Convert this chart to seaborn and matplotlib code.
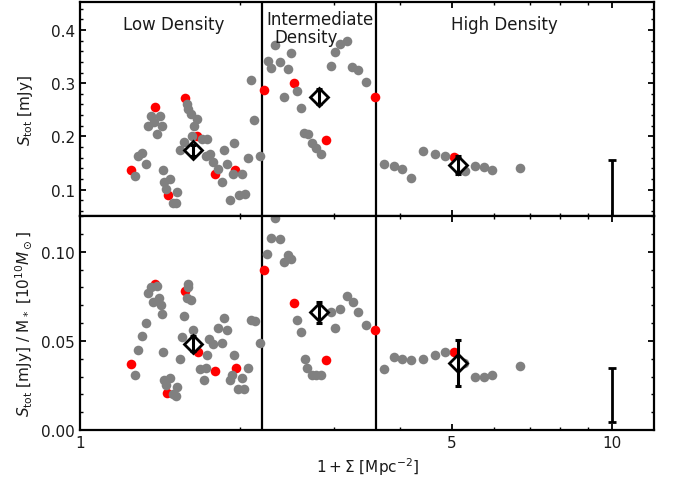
import numpy as np
import pandas as pd
import matplotlib
matplotlib.use("Agg")
import matplotlib.pyplot as plt
import seaborn as sns
from matplotlib.ticker import FixedLocator, FixedFormatter, MultipleLocator, FormatStrFormatter

# ---------------- data ----------------
# top panel: S_tot [mJy]
top_gray_x = [1.357, 1.413, 1.343, 1.377, 1.423, 1.396, 1.586, 1.597, 1.614, 1.656, 1.639, 1.621,
              1.692, 1.734, 1.567, 1.540, 1.724, 1.754, 1.774, 1.863, 1.945, 1.885, 1.817, 1.845,
              1.939, 2.016, 2.069, 2.176, 2.127, 2.093, 1.305, 1.286, 1.328, 1.268, 1.433, 1.475,
              1.438, 1.450, 1.523, 1.493, 1.514, 1.911, 1.990, 2.040,
              2.329, 2.489, 2.256, 2.289, 2.373, 2.460, 2.414, 2.561, 2.606, 2.636, 2.682, 2.729,
              2.781, 2.833, 2.958, 3.009, 3.087, 3.179, 3.248, 3.328, 3.440,
              3.724, 3.884, 4.020, 4.193, 4.407, 4.650, 4.861, 5.293, 5.516, 5.734, 5.936, 6.712]
top_gray_y = [0.238, 0.238, 0.220, 0.227, 0.220, 0.205, 0.261, 0.252, 0.242, 0.233, 0.219, 0.200,
              0.196, 0.195, 0.190, 0.175, 0.164, 0.166, 0.151, 0.174, 0.188, 0.149, 0.139, 0.115,
              0.129, 0.129, 0.159, 0.164, 0.231, 0.306, 0.169, 0.163, 0.149, 0.125, 0.136, 0.120,
              0.114, 0.101, 0.096, 0.075, 0.074, 0.081, 0.089, 0.092,
              0.372, 0.357, 0.342, 0.328, 0.339, 0.327, 0.274, 0.286, 0.253, 0.206, 0.204, 0.188,
              0.178, 0.167, 0.333, 0.358, 0.374, 0.380, 0.330, 0.325, 0.302,
              0.148, 0.145, 0.139, 0.121, 0.172, 0.167, 0.163, 0.134, 0.144, 0.142, 0.137, 0.141]
top_red_x = [1.383, 1.574, 1.246, 1.463, 1.792, 1.956, 1.660, 2.214, 2.524, 2.903, 3.588, 5.052]
top_red_y = [0.255, 0.272, 0.137, 0.090, 0.129, 0.136, 0.200, 0.287, 0.300, 0.193, 0.274, 0.161]

# bottom panel: S_tot / M*
bot_gray_x = [1.396, 1.359, 1.343, 1.369, 1.406, 1.419, 1.423, 1.593, 1.597, 1.586, 1.616, 1.567,
              1.328, 1.305, 1.286, 1.268, 1.429, 1.540, 1.552, 1.628, 1.729, 1.748, 1.774, 1.817,
              1.845, 1.863, 1.885, 1.945, 1.680, 1.722, 1.709, 1.926, 1.911, 2.016, 1.985, 2.037,
              2.069, 2.093, 2.130, 2.176, 1.439, 1.475, 1.450, 1.523, 1.496, 1.512,
              2.322, 2.289, 2.373, 2.250, 2.460, 2.489, 2.414, 2.561, 2.606, 2.644, 2.675, 2.729,
              2.781, 2.833, 2.958, 3.009, 3.087, 3.179, 3.257, 3.328, 3.440,
              3.724, 3.884, 4.020, 4.193, 4.407, 4.650, 4.861, 5.277, 5.516, 5.734, 5.936, 6.712]
bot_gray_y = [0.081, 0.080, 0.077, 0.072, 0.074, 0.070, 0.065, 0.082, 0.080, 0.074, 0.073, 0.064,
              0.060, 0.053, 0.045, 0.031, 0.044, 0.040, 0.052, 0.056, 0.042, 0.051, 0.048, 0.057,
              0.049, 0.063, 0.056, 0.042, 0.034, 0.035, 0.028, 0.031, 0.028, 0.029, 0.023, 0.023,
              0.035, 0.062, 0.061, 0.049, 0.028, 0.029, 0.025, 0.024, 0.020, 0.019,
              0.119, 0.108, 0.107, 0.099, 0.098, 0.096, 0.094, 0.062, 0.055, 0.040, 0.035, 0.031,
              0.031, 0.031, 0.066, 0.057, 0.068, 0.075, 0.072, 0.066, 0.059,
              0.034, 0.041, 0.040, 0.039, 0.040, 0.042, 0.044, 0.0375, 0.030, 0.030, 0.031, 0.036]
bot_red_x = [1.383, 1.574, 1.246, 1.458, 1.663, 1.794, 1.962, 2.214, 2.524, 2.903, 3.588, 5.052]
bot_red_y = [0.082, 0.078, 0.037, 0.021, 0.044, 0.033, 0.035, 0.090, 0.071, 0.039, 0.056, 0.044]

# bin medians (diamonds) with errors
bin_x = [1.632, 2.812, 5.125]
bin_top_y = [0.174, 0.275, 0.147]
bin_top_err = [0.010, 0.015, 0.017]
bin_bot_y = [0.0485, 0.066, 0.0375]
bin_bot_err = [0.0044, 0.006, 0.013]

# representative error bar
rep_x = [10.0]
rep_top_y = [0.100]
rep_top_err = [0.056]
rep_bot_y = [0.0195]
rep_bot_err = [0.0153]

bin_edges = [2.2, 3.6]
region_labels = ["Low Density", "Intermediate", "Density", "High Density"]

# ---------------- plotting ----------------
sns.set_theme(style="ticks")
plt.rcParams["font.family"] = ["DejaVu Sans"]
plt.rcParams["mathtext.fontset"] = "dejavusans"

fig = plt.figure(figsize=(6.73, 4.81), dpi=100)
gs = fig.add_gridspec(2, 1, left=0.119, right=0.972, top=0.993, bottom=0.104, hspace=0)
ax1 = fig.add_subplot(gs[0])
ax2 = fig.add_subplot(gs[1], sharex=ax1)

GRAY = "#808080"
RED = "#ff0000"

panels = [
    (ax1, top_gray_x, top_gray_y, top_red_x, top_red_y, bin_top_y, bin_top_err, rep_top_y, rep_top_err),
    (ax2, bot_gray_x, bot_gray_y, bot_red_x, bot_red_y, bin_bot_y, bin_bot_err, rep_bot_y, rep_bot_err),
]

for ax, gx, gy, rx, ry, by, be, ry_rep, re_rep in panels:
    sns.scatterplot(x=rx, y=ry, ax=ax, color=RED, s=48, linewidth=0, zorder=2)
    sns.scatterplot(x=gx, y=gy, ax=ax, color=GRAY, s=48, linewidth=0, zorder=2.5)
    ax.plot(bin_x, by, linestyle="none", marker="D", ms=9.5, mfc="white", mec="black", mew=2, zorder=4)
    ax.errorbar(bin_x, by, yerr=be, fmt="none", ecolor="black", elinewidth=2.2,
                capsize=2.5, capthick=2.2, zorder=5)
    ax.errorbar(rep_x, ry_rep, yerr=re_rep, fmt="none", ecolor="black", elinewidth=2,
                capsize=3, capthick=2, zorder=5)
    for xe in bin_edges:
        ax.axvline(xe, color="black", lw=1.6, zorder=1)
    for sp in ax.spines.values():
        sp.set_linewidth(1.6)
        sp.set_color("black")
        sp.set_visible(True)
    ax.tick_params(which="both", direction="in", top=True, right=True, colors="black",
                   labelsize=11, labelcolor="#1a1a1a")
    ax.tick_params(which="major", length=4.5, width=1.3)
    ax.tick_params(which="minor", length=2.5, width=1.0)

ax1.set_xscale("log")
ax1.set_xlim(1, 12)
ax2.xaxis.set_major_locator(FixedLocator([1, 5, 10]))
ax2.xaxis.set_major_formatter(FixedFormatter(["1", "5", "10"]))
ax2.xaxis.set_minor_locator(FixedLocator([2, 3, 4, 6, 7, 8, 9]))
ax2.xaxis.set_minor_formatter(FixedFormatter([""] * 7))
plt.setp(ax1.get_xticklabels(), visible=False)

ax1.set_ylim(0.05, 0.452)
ax1.yaxis.set_major_locator(FixedLocator([0.1, 0.2, 0.3, 0.4]))
ax1.yaxis.set_major_formatter(FormatStrFormatter("%.1f"))
ax1.yaxis.set_minor_locator(MultipleLocator(0.02))

ax2.set_ylim(0.0, 0.12)
ax2.yaxis.set_major_locator(FixedLocator([0.0, 0.05, 0.10]))
ax2.yaxis.set_major_formatter(FormatStrFormatter("%.2f"))
ax2.yaxis.set_minor_locator(MultipleLocator(0.01))

ax1.set_ylabel(r"$S_{\rm tot}$ [mJy]", fontsize=11, color="#1a1a1a")
ax2.set_ylabel(r"$S_{\rm tot}$ [mJy] / M$_*$ [10$^{10}M_\odot$]", fontsize=11, color="#1a1a1a")
ax1.yaxis.set_label_coords(-0.078, 0.5)
ax2.yaxis.set_label_coords(-0.078, 0.5)
ax2.set_xlabel(r"$1 + \Sigma$ [Mpc$^{-2}$]", fontsize=11, color="#1a1a1a")

txt_kw = dict(transform=ax1.transAxes, fontsize=12, color="#1a1a1a", va="center")
ax1.text(0.163, 0.899, region_labels[0], ha="center", **txt_kw)
ax1.text(0.325, 0.922, region_labels[1], ha="left", **txt_kw)
ax1.text(0.339, 0.837, region_labels[2], ha="left", **txt_kw)
ax1.text(0.739, 0.899, region_labels[3], ha="center", **txt_kw)

fig.savefig("out.png", dpi=100)
